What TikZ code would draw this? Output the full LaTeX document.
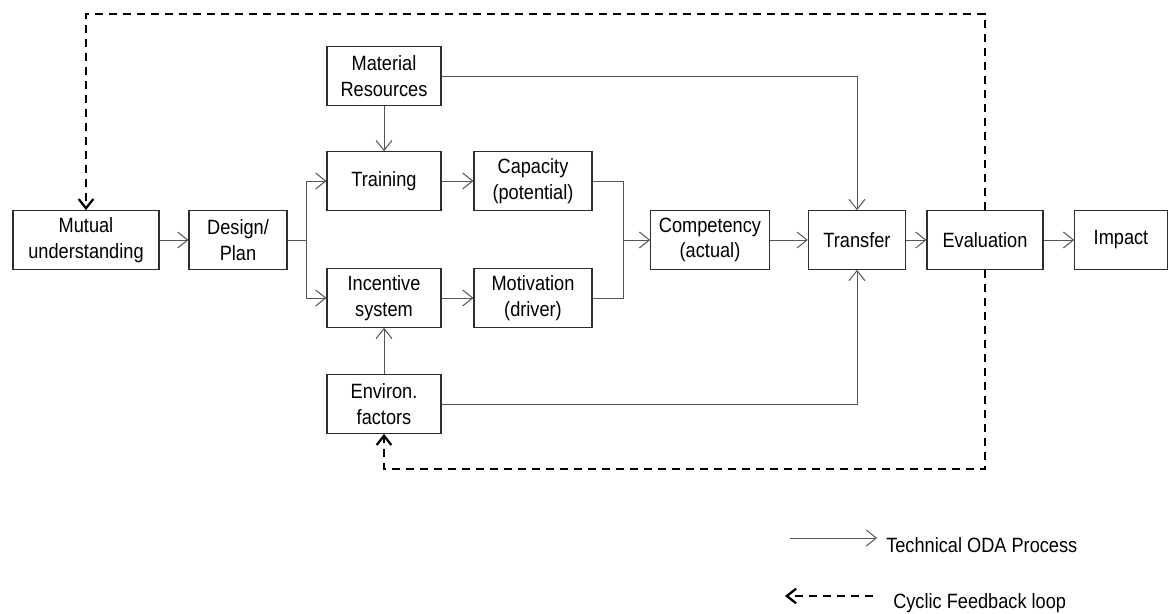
\documentclass[tikz,border=0pt]{standalone}
\usepackage{fontspec}
\setmainfont{Liberation Sans}[FakeStretch=0.88]
\usepackage{tikz}
\usetikzlibrary{arrows.meta,calc,positioning}
\definecolor{boxline}{RGB}{45,45,45}
\definecolor{flowline}{RGB}{85,85,85}
\tikzset{
  blk/.style={draw=boxline, line width=0.8pt, minimum height=44pt, inner sep=1pt,
    align=center, font=\fontsize{15.5}{19}\selectfont},
  blkS/.style={blk, minimum width=85.5pt},    % left column boxes
  blkM/.style={blk, minimum width=88.5pt},    % capacity / motivation
  flow/.style={-{Straight Barb[length=7.5pt,width=12pt,line width=0.75pt]}, draw=flowline, line width=0.75pt},
  joint/.style={draw=flowline, line width=0.75pt},
  feedback/.style={-{Straight Barb[length=7pt,width=11pt,line width=1.7pt]}, line width=1.7pt,
    dash pattern=on 6pt off 4.5pt},
  legtext/.style={anchor=west, inner sep=0pt, font=\fontsize{15.5}{19}\selectfont}
}
\begin{document}
\begin{tikzpicture}[x=0.75pt, y=-0.75pt]
  \useasboundingbox (0,0) rectangle (1168,614);
  % main chain
  \node[blk, minimum width=109.5pt] (mutual) at (86,240) {Mutual\\understanding};
  \node[blk, minimum width=73.5pt] (design) at (238,240) {Design/\\Plan};
  \node[blkS] (material) at (384,76) {Material\\Resources};
  \node[blkS] (training) at (384,181) {Training};
  \node[blkS] (incentive) at (384,298) {Incentive\\system};
  \node[blkS] (environ) at (384,404) {Environ.\\factors};
  \node[blkM] (capacity) at (533,181) {Capacity\\(potential)};
  \node[blkM] (motivation) at (533,298) {Motivation\\(driver)};
  \node[blk, minimum width=89pt] (competency) at (710,240) {Competency\\(actual)};
  \node[blk, minimum width=73pt] (transfer) at (857,240) {Transfer};
  \node[blk, minimum width=87pt] (evaluation) at (985,240) {Evaluation};
  \node[blk, minimum width=69.5pt] (impact) at (1121,240) {Impact};
  % branch and merge points
  \coordinate (split) at (306,240);
  \coordinate (merge) at (623,240);
  \draw[flow] (mutual) -- (design);
  \draw[joint] (design) -- (split);
  \draw[flow] (split) |- (training);
  \draw[flow] (split) |- (incentive);
  \draw[flow] (material) -- (training);
  \draw[flow] (environ) -- (incentive);
  \draw[flow] (training) -- (capacity);
  \draw[flow] (incentive) -- (motivation);
  \draw[joint] (capacity.east) -| (merge);
  \draw[joint] (motivation.east) -| (merge);
  \draw[flow] (merge) -- (competency);
  \draw[flow] (competency) -- (transfer);
  \draw[flow] (material) -| (transfer);
  \draw[flow] (environ) -| (transfer);
  \draw[flow] (transfer) -- (evaluation);
  \draw[flow] (evaluation) -- (impact);
  % feedback loops
  \coordinate (fbtop) at (985,14);
  \coordinate (fbbot) at (985,469);
  \draw[feedback] (evaluation) -- (fbtop) -| (mutual);
  \draw[feedback] (evaluation) -- (fbbot) -| (environ);
  % legend
  \coordinate (lgA) at (790,538);
  \coordinate (lgB) at (877,538);
  \coordinate (lgC) at (873,596);
  \coordinate (lgD) at (785,596);
  \draw[flow] (lgA) -- (lgB);
  \draw[feedback] (lgC) -- (lgD);
  \node[legtext] (lgproc) at (886,545) {Technical ODA Process};
  \node[legtext] (lgloop) at (893,603) {Cyclic Feedback loop};
\end{tikzpicture}
\end{document}
